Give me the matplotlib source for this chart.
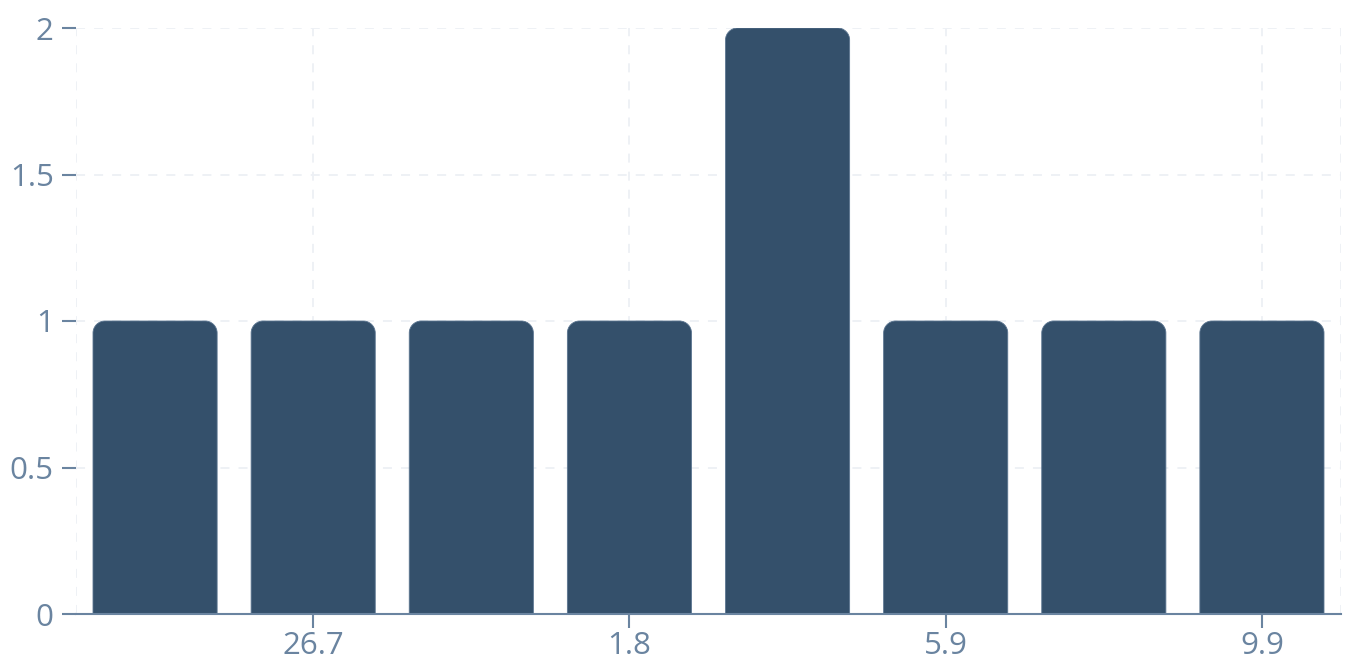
import matplotlib
matplotlib.use("Agg")
import matplotlib.pyplot as plt
from matplotlib.path import Path
from matplotlib.patches import PathPatch

# Data
positions = [0, 1, 2, 3, 4, 5, 6, 7]
counts = [1, 1, 1, 1, 2, 1, 1, 1]
tick_positions = [1, 3, 5, 7]
tick_labels = ["26.7", "1.8", "5.9", "9.9"]
y_ticks = [0, 0.5, 1, 1.5, 2]
y_labels = ["0", "0.5", "1", "1.5", "2"]

bar_color = "#34506b"
text_color = "#6a84a0"
grid_color = "#edf0f5"

plt.rcParams['font.family'] = ['Open Sans', 'DejaVu Sans']

W, H = 1347, 661
fig = plt.figure(figsize=(W / 100, H / 100), dpi=100)
ax = fig.add_axes([76 / W, (H - 614) / H, (1341 - 76) / W, (614 - 28) / H])
ax.set_xlim(-0.5, 7.5)
ax.set_ylim(0, 2)

bar_w = 0.785
r_px = 12
px_per_x = (1341 - 76) / 8.0
px_per_y = (614 - 28) / 2.0
rx = r_px / px_per_x
ry = r_px / px_per_y
k = 0.5523

for x, v in zip(positions, counts):
    x0 = x - bar_w / 2
    x1 = x + bar_w / 2
    verts = [
        (x0, 0), (x0, v - ry),
        (x0, v - ry + k * ry), (x0 + rx - k * rx, v), (x0 + rx, v),
        (x1 - rx, v),
        (x1 - rx + k * rx, v), (x1, v - ry + k * ry), (x1, v - ry),
        (x1, 0), (x0, 0),
    ]
    codes = [Path.MOVETO, Path.LINETO,
             Path.CURVE4, Path.CURVE4, Path.CURVE4,
             Path.LINETO,
             Path.CURVE4, Path.CURVE4, Path.CURVE4,
             Path.LINETO, Path.CLOSEPOLY]
    ax.add_patch(PathPatch(Path(verts, codes), facecolor=bar_color,
                           edgecolor="#5b7590", linewidth=0.6, zorder=3))

ax.set_xticks(tick_positions)
ax.set_xticklabels(tick_labels)
ax.set_yticks(y_ticks)
ax.set_yticklabels(y_labels)

for sp in ["top", "right", "left"]:
    ax.spines[sp].set_visible(False)
ax.spines["bottom"].set_color("#6a84a0")
ax.spines["bottom"].set_linewidth(1.5)
ax.spines["bottom"].set_zorder(4)

ax.grid(True, color=grid_color, linestyle=(0, (5, 5)), linewidth=1.3, zorder=0)
for xe in [-0.5, 7.5]:
    ax.axvline(xe, color=grid_color, linestyle=(0, (5, 5)), linewidth=1.3, zorder=0)

ax.tick_params(axis="both", colors=text_color, labelsize=22.5, width=1.5, length=10)
ax.tick_params(axis="y", pad=6)
ax.tick_params(axis="x", pad=2)
ax.spines["bottom"].set_bounds(-0.5, 7.5)

fig.savefig("out.png", dpi=100)
